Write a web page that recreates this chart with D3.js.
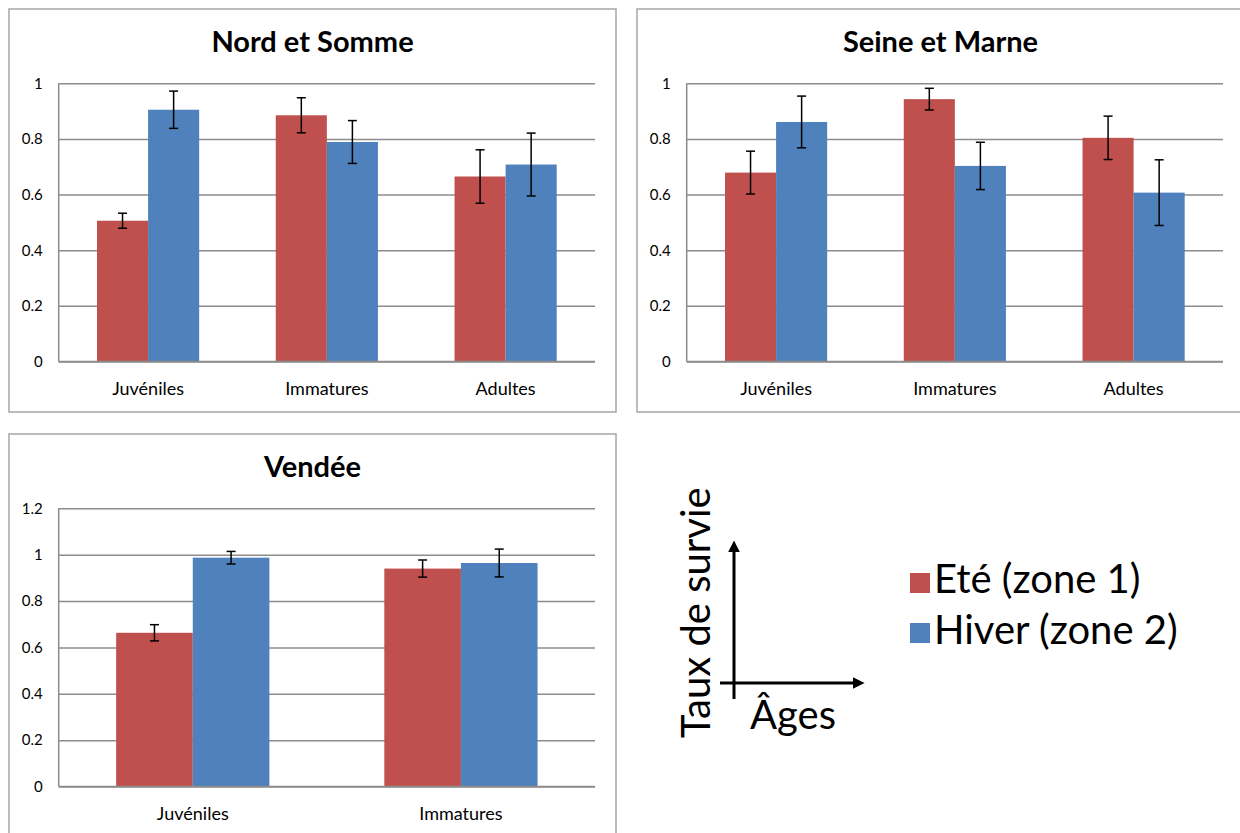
<!DOCTYPE html>
<html>
<head>
<meta charset="utf-8">
<script src="https://cdn.jsdelivr.net/npm/d3@7"></script>
<style>
  body { margin: 0; background: #fff; }
  text { font-family: Lato, "Open Sans", sans-serif; }
</style>
</head>
<body>
<div id="chart"></div>
<script>
// series names and colours
var seriesNames = ["Eté (zone 1)", "Hiver (zone 2)"];
var seriesColors = ["#C0504D", "#4F81BD"];

// Nord et Somme
var nordCats = ["Juvéniles", "Immatures", "Adultes"];
var nordEte = [0.506, 0.885, 0.665];
var nordEteErr = [0.027, 0.063, 0.096];
var nordHiver = [0.905, 0.789, 0.708];
var nordHiverErr = [0.067, 0.077, 0.113];

// Seine et Marne
var seineCats = ["Juvéniles", "Immatures", "Adultes"];
var seineEte = [0.679, 0.943, 0.804];
var seineEteErr = [0.077, 0.039, 0.078];
var seineHiver = [0.861, 0.703, 0.607];
var seineHiverErr = [0.093, 0.085, 0.118];

// Vendée
var vendeeCats = ["Juvéniles", "Immatures"];
var vendeeEte = [0.663, 0.940];
var vendeeEteErr = [0.035, 0.037];
var vendeeHiver = [0.987, 0.964];
var vendeeHiverErr = [0.027, 0.060];

var ticks1 = [0, 0.2, 0.4, 0.6, 0.8, 1];
var ticks12 = [0, 0.2, 0.4, 0.6, 0.8, 1, 1.2];

var width = 1240, height = 833;

var svg = d3.select("#chart").append("svg")
    .attr("width", width)
    .attr("height", height);

svg.append("rect").attr("width", width).attr("height", height).attr("fill", "#fff");

// frame size, plot offsets inside a frame
var frameW = 607, frameH = 403;
var plot = { left: 49.7, right: 586, top: 74.3, bottom: 352.5 };

function drawPanel(fx, fy, title, cats, ete, eteErr, hiver, hiverErr, ticks) {
    var g = svg.append("g").attr("transform", "translate(" + fx + "," + fy + ")");

    g.append("rect")
        .attr("x", 0).attr("y", 0)
        .attr("width", frameW).attr("height", frameH)
        .attr("fill", "none")
        .attr("stroke", "#a6a6a6")
        .attr("stroke-width", 1.5);

    g.append("text")
        .attr("x", frameW / 2)
        .attr("y", 43)
        .attr("text-anchor", "middle")
        .style("font-size", "29px")
        .style("font-weight", "bold")
        .text(title);

    var y = d3.scaleLinear()
        .domain([0, d3.max(ticks)])
        .range([plot.bottom, plot.top]);

    var x0 = d3.scaleBand()
        .domain(cats)
        .range([plot.left, plot.right])
        .padding(0);

    // Excel style: gap width 150% of one bar
    var x1 = d3.scaleBand()
        .domain(seriesNames)
        .range([0, x0.bandwidth()])
        .paddingInner(0)
        .paddingOuter(0.75);

    // gridlines
    var yAxis = g.append("g")
        .attr("transform", "translate(" + plot.left + ",0)")
        .call(d3.axisLeft(y).tickValues(ticks).tickSize(-(plot.right - plot.left)).tickPadding(16)
            .tickFormat(function (d) { return d3.format("~g")(d); }));
    yAxis.select(".domain").remove();
    yAxis.selectAll(".tick line").attr("stroke", "#8c8c8c").attr("stroke-width", 1.5);
    yAxis.selectAll(".tick text")
        .style("font-family", "Lato, sans-serif")
        .style("font-size", "15px")
        .attr("fill", "#000");

    g.append("line")
        .attr("x1", plot.left).attr("x2", plot.left)
        .attr("y1", plot.top).attr("y2", plot.bottom)
        .attr("stroke", "#8c8c8c").attr("stroke-width", 1.5);

    var rows = cats.map(function (c, i) {
        return [
            { cat: c, s: seriesNames[0], v: ete[i], e: eteErr[i], color: seriesColors[0] },
            { cat: c, s: seriesNames[1], v: hiver[i], e: hiverErr[i], color: seriesColors[1] }
        ];
    });

    var groups = g.selectAll("g.cat")
        .data(rows)
        .enter().append("g")
        .attr("class", "cat")
        .attr("transform", function (d) { return "translate(" + x0(d[0].cat) + ",0)"; });

    groups.selectAll("rect")
        .data(function (d) { return d; })
        .enter().append("rect")
        .attr("x", function (d) { return x1(d.s); })
        .attr("y", function (d) { return y(d.v); })
        .attr("width", x1.bandwidth())
        .attr("height", function (d) { return y(0) - y(d.v); })
        .attr("fill", function (d) { return d.color; });

    // error bars
    var capW = 4.5;
    var eb = groups.selectAll("g.err")
        .data(function (d) { return d; })
        .enter().append("g")
        .attr("class", "err")
        .attr("stroke", "#000")
        .attr("stroke-width", 1.5);
    eb.append("line")
        .attr("x1", function (d) { return x1(d.s) + x1.bandwidth() / 2; })
        .attr("x2", function (d) { return x1(d.s) + x1.bandwidth() / 2; })
        .attr("y1", function (d) { return y(d.v + d.e); })
        .attr("y2", function (d) { return y(d.v - d.e); });
    eb.append("line")
        .attr("x1", function (d) { return x1(d.s) + x1.bandwidth() / 2 - capW; })
        .attr("x2", function (d) { return x1(d.s) + x1.bandwidth() / 2 + capW; })
        .attr("y1", function (d) { return y(d.v + d.e); })
        .attr("y2", function (d) { return y(d.v + d.e); });
    eb.append("line")
        .attr("x1", function (d) { return x1(d.s) + x1.bandwidth() / 2 - capW; })
        .attr("x2", function (d) { return x1(d.s) + x1.bandwidth() / 2 + capW; })
        .attr("y1", function (d) { return y(d.v - d.e); })
        .attr("y2", function (d) { return y(d.v - d.e); });

    // x axis line + labels
    g.append("line")
        .attr("x1", plot.left).attr("x2", plot.right)
        .attr("y1", y(0)).attr("y2", y(0))
        .attr("stroke", "#8c8c8c").attr("stroke-width", 1.5);

    g.selectAll("text.cat")
        .data(cats)
        .enter().append("text")
        .attr("class", "cat")
        .attr("x", function (d) { return x0(d) + x0.bandwidth() / 2; })
        .attr("y", plot.bottom + 33)
        .attr("text-anchor", "middle")
        .style("font-size", "18px")
        .text(function (d) { return d; });
}

drawPanel(9, 9, "Nord et Somme", nordCats, nordEte, nordEteErr, nordHiver, nordHiverErr, ticks1);
drawPanel(637, 9, "Seine et Marne", seineCats, seineEte, seineEteErr, seineHiver, seineHiverErr, ticks1);
drawPanel(9, 434, "Vendée", vendeeCats, vendeeEte, vendeeEteErr, vendeeHiver, vendeeHiverErr, ticks12);

// schematic axes + legend
svg.append("defs").append("marker")
    .attr("id", "arrow")
    .attr("viewBox", "0 -5 10 10")
    .attr("refX", 2)
    .attr("refY", 0)
    .attr("markerWidth", 4)
    .attr("markerHeight", 4)
    .attr("orient", "auto")
    .append("path")
    .attr("d", "M0,-5L10,0L0,5Z")
    .attr("fill", "#000");

svg.append("line")
    .attr("x1", 734).attr("y1", 699)
    .attr("x2", 734).attr("y2", 550)
    .attr("stroke", "#000").attr("stroke-width", 3)
    .attr("marker-end", "url(#arrow)");
svg.append("line")
    .attr("x1", 720).attr("y1", 683)
    .attr("x2", 855).attr("y2", 683)
    .attr("stroke", "#000").attr("stroke-width", 3)
    .attr("marker-end", "url(#arrow)");

svg.append("text")
    .attr("transform", "translate(710,738) rotate(-90)")
    .style("font-size", "40px")
    .text("Taux de survie");
svg.append("text")
    .attr("x", 750).attr("y", 729)
    .style("font-size", "40px")
    .text("Âges");

var leg = svg.append("g").attr("transform", "translate(910,573)");
leg.selectAll("rect")
    .data(seriesNames)
    .enter().append("rect")
    .attr("x", 0)
    .attr("y", function (d, i) { return i * 50; })
    .attr("width", 20).attr("height", 20)
    .attr("fill", function (d, i) { return seriesColors[i]; });
leg.selectAll("text")
    .data(seriesNames)
    .enter().append("text")
    .attr("x", 24)
    .attr("y", function (d, i) { return 20 + i * 51; })
    .style("font-size", "40px")
    .text(function (d) { return d; });
</script>
</body>
</html>
